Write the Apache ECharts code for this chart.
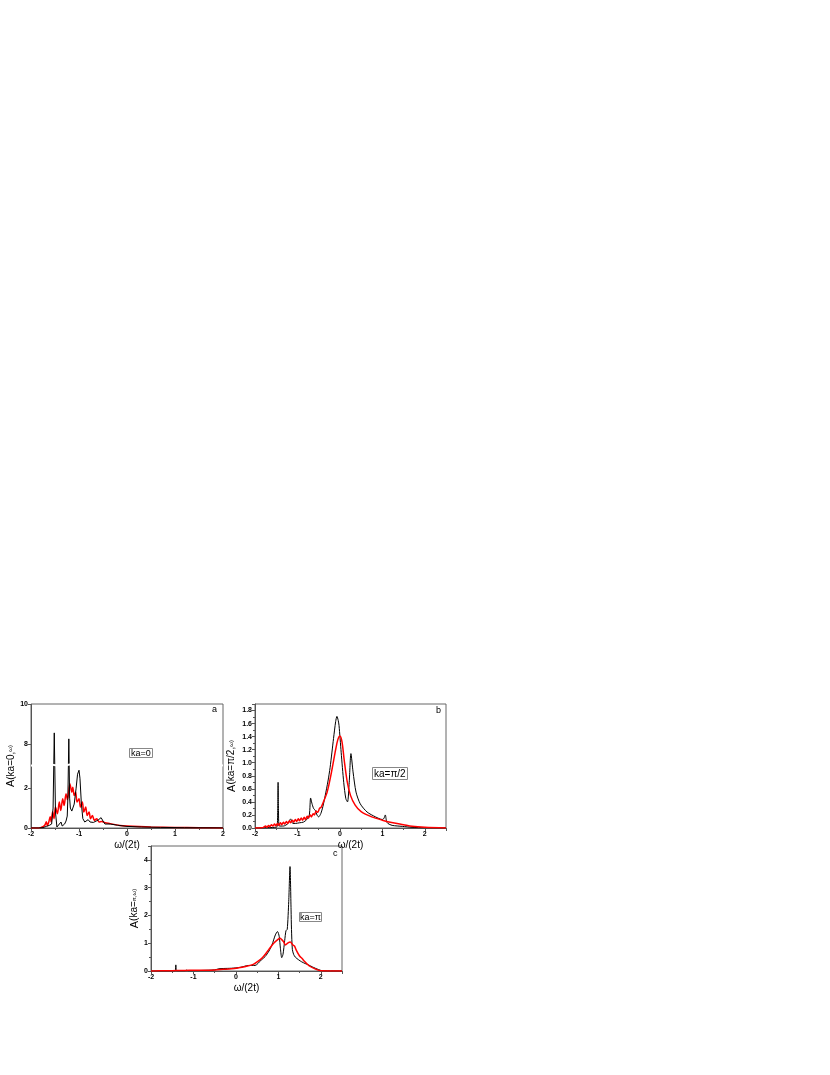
<!DOCTYPE html>
<html>
<head>
<meta charset="utf-8">
<script src="https://cdn.jsdelivr.net/npm/echarts@6/dist/echarts.min.js"></script>
<style>
  html, body { margin: 0; padding: 0; background: #fff; }
  #chart { width: 830px; height: 1075px; }
</style>
</head>
<body>
<div id="chart"></div>
<script>
// ---- data ----
// panel a : ka=0
var aBlackX = [-2, -1.85, -1.75, -1.68, -1.62, -1.57, -1.54, -1.515, -1.49, -1.46, -1.42, -1.375, -1.35, -1.33, -1.3, -1.27, -1.245, -1.232, -1.212, -1.195, -1.18, -1.15, -1.1, -1.06, -1.03, -1.0, -0.98, -0.95, -0.92, -0.88, -0.84, -0.81, -0.77, -0.74, -0.7, -0.67, -0.6, -0.54, -0.5, -0.46, -0.35, -0.2, 0, 0.3, 0.7, 1.2, 2];
var aBlackY = [0, 0, 0.02, 0.08, 0.13, 0.2, 1.0, 8.55, 0.8, 0.05, 0.1, 0.3, 0.1, 0.0, 0.2, 0.35, 0.6, 1.5, 8.25, 1.5, 1.0, 0.85, 1.2, 2.0, 2.7, 2.9, 2.5, 1.2, 0.47, 0.3, 0.38, 0.42, 0.3, 0.25, 0.28, 0.3, 0.4, 0.52, 0.35, 0.2, 0.2, 0.14, 0.08, 0.05, 0.03, 0.015, 0.005];
var aRedX = [-2, -1.85, -1.8, -1.74, -1.71, -1.68, -1.66, -1.63, -1.6, -1.58, -1.55, -1.52, -1.49, -1.45, -1.41, -1.38, -1.34, -1.31, -1.27, -1.24, -1.19, -1.15, -1.13, -1.1, -1.07, -1.04, -1.0, -0.97, -0.93, -0.9, -0.86, -0.83, -0.79, -0.76, -0.72, -0.68, -0.63, -0.58, -0.53, -0.45, -0.35, -0.25, -0.15, 0, 0.25, 0.5, 1, 1.5, 2];
var aRedY = [0, 0, 0.02, 0.08, 0.15, 0.32, 0.13, 0.3, 0.57, 0.3, 0.82, 0.47, 1.05, 0.72, 1.3, 0.88, 1.47, 1.13, 1.72, 1.42, 2.22, 1.8, 2.05, 1.63, 1.8, 1.3, 1.47, 1.05, 1.3, 0.8, 1.05, 0.63, 0.8, 0.47, 0.63, 0.38, 0.47, 0.3, 0.33, 0.26, 0.22, 0.17, 0.13, 0.1, 0.07, 0.05, 0.03, 0.015, 0.005];
var aYTicks = [0, 2, 8, 10];

// panel b : ka=pi/2
var bBlackX = [-2, -1.7, -1.55, -1.48, -1.465, -1.456, -1.447, -1.43, -1.33, -1.22, -1.16, -1.11, -1.05, -0.95, -0.86, -0.78, -0.72, -0.69, -0.66, -0.62, -0.58, -0.54, -0.5, -0.45, -0.4, -0.345, -0.28, -0.23, -0.15, -0.1, -0.07, -0.04, -0.02, 0.03, 0.09, 0.14, 0.18, 0.22, 0.26, 0.31, 0.38, 0.48, 0.64, 0.84, 1.0, 1.04, 1.07, 1.1, 1.13, 1.23, 1.47, 1.7, 2.0, 2.5];
var bBlackY = [0, 0.005, 0.01, 0.02, 0.3, 0.70, 0.3, 0.03, 0.03, 0.07, 0.14, 0.07, 0.07, 0.08, 0.09, 0.13, 0.2, 0.46, 0.38, 0.3, 0.27, 0.2, 0.17, 0.22, 0.33, 0.5, 0.72, 0.93, 1.37, 1.63, 1.71, 1.65, 1.57, 1.16, 0.7, 0.45, 0.4, 0.7, 1.14, 0.86, 0.55, 0.37, 0.245, 0.17, 0.13, 0.15, 0.2, 0.1, 0.07, 0.04, 0.025, 0.01, 0.003, 0];
var bRedX = [-2, -1.85, -1.8, -1.75, -1.72, -1.68, -1.65, -1.61, -1.58, -1.54, -1.51, -1.47, -1.44, -1.4, -1.37, -1.33, -1.3, -1.26, -1.23, -1.19, -1.16, -1.12, -1.09, -1.05, -1.02, -0.98, -0.95, -0.91, -0.88, -0.84, -0.81, -0.77, -0.74, -0.7, -0.67, -0.63, -0.6, -0.56, -0.52, -0.48, -0.44, -0.4, -0.3, -0.2, -0.1, -0.05, 0, 0.05, 0.1, 0.17, 0.25, 0.36, 0.5, 0.75, 1.0, 1.25, 1.5, 1.7, 2.0, 2.5];
var bRedY = [0, 0.005, 0.01, 0.03, 0.01, 0.04, 0.02, 0.05, 0.03, 0.06, 0.035, 0.07, 0.04, 0.08, 0.05, 0.09, 0.06, 0.1, 0.07, 0.11, 0.08, 0.12, 0.09, 0.13, 0.1, 0.14, 0.11, 0.155, 0.12, 0.165, 0.13, 0.18, 0.15, 0.2, 0.17, 0.22, 0.2, 0.26, 0.24, 0.3, 0.32, 0.38, 0.55, 0.85, 1.2, 1.35, 1.41, 1.32, 1.05, 0.72, 0.5, 0.35, 0.25, 0.17, 0.12, 0.08, 0.05, 0.025, 0.01, 0];

// panel c : ka=pi
var cBlackX = [-2, -1.5, -1.43, -1.415, -1.40, -1.2, -1.16, -1.12, -0.8, -0.5, -0.4, -0.3, -0.1, 0.1, 0.3, 0.45, 0.6, 0.69, 0.78, 0.85, 0.93, 0.98, 1.02, 1.05, 1.08, 1.11, 1.15, 1.18, 1.21, 1.245, 1.275, 1.30, 1.31, 1.33, 1.36, 1.40, 1.48, 1.55, 1.63, 1.71, 1.8, 1.87, 1.95, 2.03, 2.5];
var cBlackY = [0, 0.005, 0.01, 0.22, 0.01, 0.01, 0.03, 0.01, 0.02, 0.04, 0.08, 0.09, 0.1, 0.13, 0.2, 0.2, 0.4, 0.52, 0.72, 0.94, 1.3, 1.42, 1.25, 0.8, 0.48, 0.6, 1.1, 1.45, 1.5, 2.5, 3.76, 2.2, 1.5, 0.78, 0.6, 0.5, 0.4, 0.33, 0.27, 0.22, 0.15, 0.1, 0.05, 0.01, 0];
var cRedX = [-2, -1.8, -1.6, -1.4, -1.2, -1.0, -0.7, -0.5, -0.3, -0.1, 0.05, 0.2, 0.41, 0.55, 0.65, 0.77, 0.89, 1.0, 1.04, 1.08, 1.12, 1.17, 1.22, 1.28, 1.34, 1.38, 1.42, 1.5, 1.56, 1.62, 1.73, 1.89, 2.0, 2.5];
var cRedY = [0, 0.005, 0.01, 0.015, 0.02, 0.025, 0.03, 0.04, 0.06, 0.08, 0.11, 0.15, 0.24, 0.38, 0.52, 0.76, 1.0, 1.15, 1.18, 1.13, 1.06, 0.94, 1.0, 1.04, 0.94, 0.9, 0.76, 0.54, 0.45, 0.34, 0.18, 0.06, 0.01, 0];

function pairs(xs, ys) {
  var out = [];
  for (var i = 0; i < xs.length; i++) out.push([xs[i], ys[i]]);
  return out;
}

var FONT = 'Liberation Sans';
var AXC = '#555';
var chart = echarts.init(document.getElementById('chart'), null, { renderer: 'canvas' });

function xAx(grid, max) {
  return {
    gridIndex: grid, type: 'value', min: -2, max: max, interval: 1,
    name: 'ω/(2t)', nameLocation: 'middle', nameGap: 12,
    nameTextStyle: { fontFamily: FONT, fontSize: 10, color: '#000' },
    axisLine: { onZero: false, lineStyle: { color: AXC, width: 1 } },
    axisTick: { length: 3, lineStyle: { color: AXC } },
    minorTick: { show: true, splitNumber: 2, length: 2, lineStyle: { color: AXC } },
    axisLabel: { fontFamily: FONT, fontSize: 7, fontWeight: 'bold', color: '#000', margin: 3, showMaxLabel: max === 2 },
    splitLine: { show: false }
  };
}

function yName(main, small) {
  return '{a|A}{b|' + main + '}{c|' + small + '}';
}
var yRich = {
  a: { fontFamily: FONT, fontSize: 11, color: '#000' },
  b: { fontFamily: FONT, fontSize: 10, color: '#000' },
  c: { fontFamily: FONT, fontSize: 6, color: '#000' }
};
var yLabel = { fontFamily: FONT, fontSize: 7, fontWeight: 'bold', color: '#000', margin: 3 };

var lineBase = { type: 'line', showSymbol: false, symbol: 'none', smooth: false, animation: false };
var red = { color: '#ff0000', width: 1.5 };
var black = { color: '#000', width: 1 };

var option = {
  backgroundColor: '#fff',
  animation: false,
  grid: [
    { left: 31, top: 704, width: 192, height: 124, show: true, borderColor: '#666', borderWidth: 1 },
    { left: 255, top: 704, width: 191, height: 124, show: true, borderColor: '#666', borderWidth: 1 },
    { left: 151, top: 846, width: 191, height: 125, show: true, borderColor: '#666', borderWidth: 1 }
  ],
  title: [
    { text: 'a', left: 212, top: 705, textStyle: { fontFamily: FONT, fontSize: 9, fontWeight: 'normal', color: '#000' }, padding: 0 },
    { text: 'b', left: 436, top: 706, textStyle: { fontFamily: FONT, fontSize: 9, fontWeight: 'normal', color: '#000' }, padding: 0 },
    { text: 'c', left: 333, top: 849, textStyle: { fontFamily: FONT, fontSize: 9, fontWeight: 'normal', color: '#000' }, padding: 0 },
    { text: 'ka=0', left: 129, top: 748, borderColor: '#888', borderWidth: 1, padding: [1, 2, 0, 2], textStyle: { fontFamily: FONT, fontSize: 9, fontWeight: 'normal', color: '#000' } },
    { text: 'ka=π/2', left: 372, top: 767, borderColor: '#888', borderWidth: 1, padding: [2, 2, 1, 2], textStyle: { fontFamily: FONT, fontSize: 10, fontWeight: 'normal', color: '#000' } },
    { text: 'ka=π', left: 299, top: 912, borderColor: '#888', borderWidth: 1, padding: [1, 1, 0, 1], textStyle: { fontFamily: FONT, fontSize: 9, fontWeight: 'normal', color: '#000' } }
  ],
  xAxis: [xAx(0, 2), xAx(1, 2.5), xAx(2, 2.5)],
  yAxis: [
    {
      gridIndex: 0, type: 'value', min: 0, max: 10, interval: 2,
      breaks: [{ start: 3.1, end: 7, gap: '2%' }],
      breakArea: {
        show: true,
        itemStyle: { color: '#fff', borderColor: AXC, borderWidth: 0, opacity: 1 },
        zigzagAmplitude: 1, zigzagMinSpan: 6, zigzagMaxSpan: 12, zigzagZ: 100, expandOnClick: false
      },
      name: yName('(ka=0,', 'ω)'), nameLocation: 'middle', nameGap: 13,
      nameTextStyle: { rich: yRich },
      axisLine: { onZero: false, lineStyle: { color: AXC } },
      axisTick: { length: 3, customValues: aYTicks, lineStyle: { color: AXC } },
      minorTick: { show: false },
      axisLabel: Object.assign({ customValues: aYTicks }, yLabel),
      splitLine: { show: false }
    },
    {
      gridIndex: 1, type: 'value', min: 0, max: 1.9, interval: 0.2,
      name: yName('(ka=π/2,', 'ω)'), nameLocation: 'middle', nameGap: 18,
      nameTextStyle: { rich: yRich },
      axisLine: { onZero: false, lineStyle: { color: AXC } },
      axisTick: { length: 3, lineStyle: { color: AXC } },
      minorTick: { show: true, splitNumber: 2, length: 2, lineStyle: { color: AXC } },
      axisLabel: Object.assign({ showMaxLabel: false, formatter: function (v) { return v.toFixed(1); } }, yLabel),
      splitLine: { show: false }
    },
    {
      gridIndex: 2, type: 'value', min: 0, max: 4.5, interval: 1,
      name: yName('(ka=', 'π,ω)'), nameLocation: 'middle', nameGap: 10,
      nameTextStyle: { rich: yRich },
      axisLine: { onZero: false, lineStyle: { color: AXC } },
      axisTick: { length: 3, lineStyle: { color: AXC } },
      minorTick: { show: true, splitNumber: 2, length: 2, lineStyle: { color: AXC } },
      axisLabel: Object.assign({ showMaxLabel: false }, yLabel),
      splitLine: { show: false }
    }
  ],
  series: [
    Object.assign({}, lineBase, { xAxisIndex: 0, yAxisIndex: 0, data: pairs(aBlackX, aBlackY), lineStyle: black, z: 3 }),
    Object.assign({}, lineBase, { xAxisIndex: 0, yAxisIndex: 0, data: pairs(aRedX, aRedY), lineStyle: red, smooth: 0.3, z: 2 }),
    Object.assign({}, lineBase, { xAxisIndex: 1, yAxisIndex: 1, data: pairs(bBlackX, bBlackY), lineStyle: black, smooth: 0.25, z: 2 }),
    Object.assign({}, lineBase, { xAxisIndex: 1, yAxisIndex: 1, data: pairs(bRedX, bRedY), lineStyle: red, smooth: 0.3, z: 3 }),
    Object.assign({}, lineBase, { xAxisIndex: 2, yAxisIndex: 2, data: pairs(cBlackX, cBlackY), lineStyle: black, smooth: 0.25, z: 2 }),
    Object.assign({}, lineBase, { xAxisIndex: 2, yAxisIndex: 2, data: pairs(cRedX, cRedY), lineStyle: red, smooth: 0.3, z: 3 })
  ]
};

chart.setOption(option);
</script>
</body>
</html>
